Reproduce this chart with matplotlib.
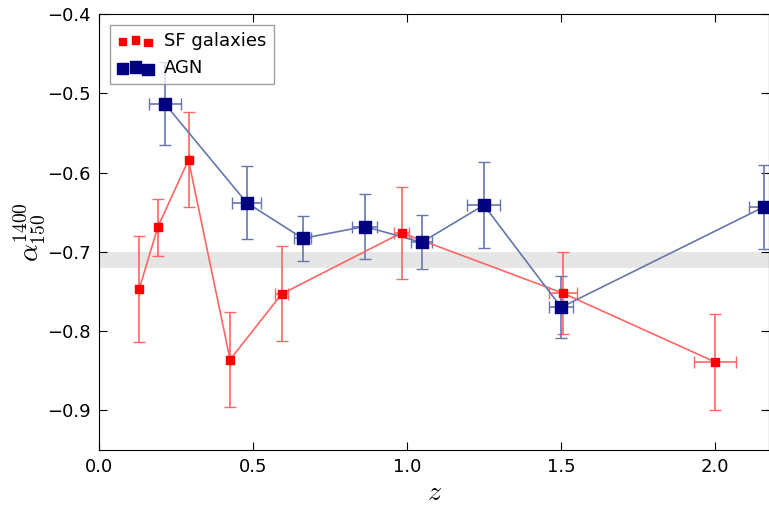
import numpy as np
import matplotlib.pyplot as plt

plt.rcParams["mathtext.fontset"] = "cm"

# SF galaxies
z_sf = np.array([0.13, 0.19, 0.29, 0.425, 0.593, 0.982, 1.505, 2.0])
a_sf = np.array([-0.747, -0.669, -0.584, -0.836, -0.753, -0.676, -0.752, -0.839])
a_sf_err = np.array([0.067, 0.036, 0.060, 0.060, 0.060, 0.058, 0.052, 0.061])
z_sf_err = np.array([0.0, 0.0, 0.0, 0.0, 0.021, 0.024, 0.045, 0.067])

# AGN
z_agn = np.array([0.213, 0.479, 0.661, 0.862, 1.047, 1.249, 1.50, 2.16])
a_agn = np.array([-0.513, -0.638, -0.683, -0.668, -0.688, -0.641, -0.770, -0.643])
a_agn_err = np.array([0.052, 0.046, 0.028, 0.041, 0.034, 0.054, 0.039, 0.053])
z_agn_err = np.array([0.052, 0.047, 0.027, 0.040, 0.034, 0.054, 0.039, 0.05])

red_line = "#ff6666"
blue_line = "#6577ad"

fig = plt.figure(figsize=(7.69, 5.05), dpi=100)
ax = fig.add_axes([0.129, 0.109, 0.871, 0.863])

ax.axhspan(-0.72, -0.70, color="0.9", lw=0, zorder=0)

ax.errorbar(z_sf, a_sf, yerr=a_sf_err, xerr=z_sf_err, fmt="-", color=red_line,
            ecolor=red_line, capsize=4, lw=1.2, elinewidth=1.2, zorder=2)
ax.errorbar(z_agn, a_agn, yerr=a_agn_err, xerr=z_agn_err, fmt="-", color=blue_line,
            ecolor=blue_line, capsize=4, lw=1.2, elinewidth=1.2, zorder=2)
ax.scatter(z_sf, a_sf, marker="s", s=28, color="red", edgecolor="red", zorder=3,
           label="SF galaxies")
ax.scatter(z_agn, a_agn, marker="s", s=65, color="navy", edgecolor="navy", zorder=3,
           label="AGN")

ax.set_xlim(0, 2.175)
ax.set_ylim(-0.95, -0.4)
ax.set_xticks([0.0, 0.5, 1.0, 1.5, 2.0])
ax.set_yticks([-0.9, -0.8, -0.7, -0.6, -0.5, -0.4])
ax.tick_params(direction="in", top=True, right=True, labelsize=13, length=6, pad=6)
ax.set_xlabel(r"$z$", fontsize=20, labelpad=1)
ax.set_ylabel(r"$\alpha_{150}^{1400}$", fontsize=20, labelpad=0)

leg = ax.legend(loc="upper left", scatterpoints=3, fontsize=13, fancybox=False,
                framealpha=0.75, edgecolor="0.5", handletextpad=0.6,
                borderaxespad=0.6)
leg.set_zorder(5)

fig.savefig("out.png", dpi=100)
